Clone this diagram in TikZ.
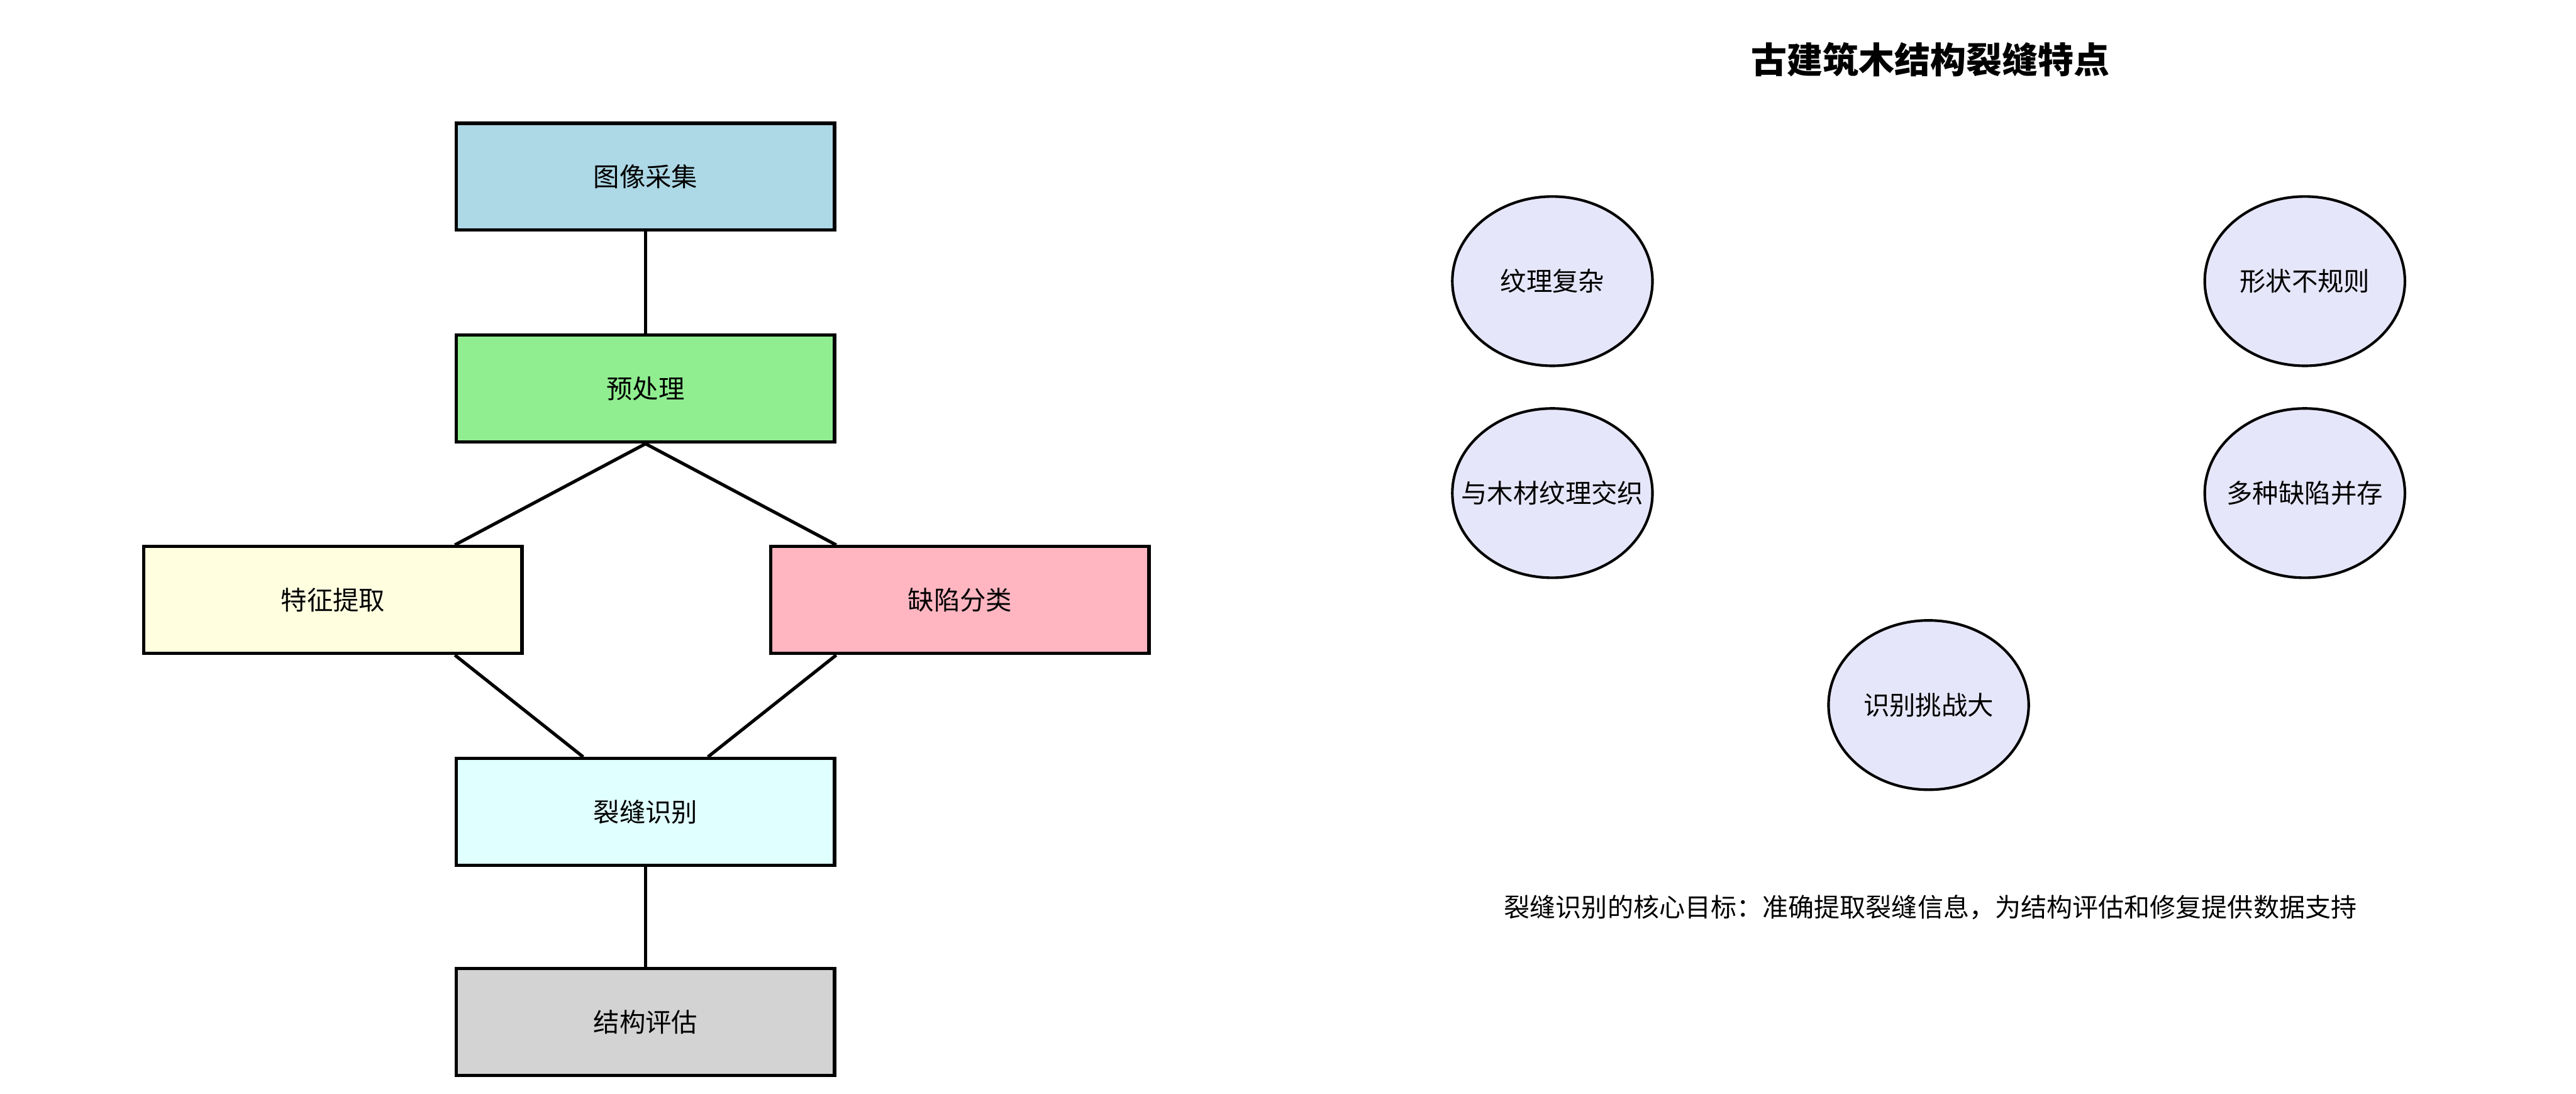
\documentclass[tikz,border=0pt]{standalone}
\usepackage{fontspec}
\setmainfont{Noto Sans CJK SC}
\usetikzlibrary{positioning,shapes.geometric}
\definecolor{acqblue}{HTML}{ADD8E6}
\definecolor{pregreen}{HTML}{90EE90}
\definecolor{featyellow}{HTML}{FFFFE0}
\definecolor{defpink}{HTML}{FFB6C1}
\definecolor{crackcyan}{HTML}{E0FFFF}
\definecolor{evalgray}{HTML}{D3D3D3}
\definecolor{traitlav}{HTML}{E6E6FA}

\begin{document}
\begin{tikzpicture}[
  font=\fontsize{12}{14}\selectfont,
  stage/.style={draw=black, line width=1.5pt, minimum width=6.12cm, minimum height=1.73cm,
                inner sep=0pt},
  trait/.style={ellipse, draw=black, line width=1.2pt, fill=traitlav, minimum width=3.24cm,
                minimum height=2.74cm, inner xsep=-0.5cm, inner ysep=0pt},
  link/.style={line width=1.5pt},
  lab/.style={inner sep=1pt}
]
\useasboundingbox (0,0) rectangle (41.70,-17.70);
% ----- processing pipeline (left) -----
\node[stage, fill=acqblue]    (acq)   at (10.45,-2.86)  {图像采集};
\node[stage, fill=pregreen]   (prep)  at (10.45,-6.29)  {预处理};
\node[stage, fill=featyellow] (feat)  at (5.39,-9.71)   {特征提取};
\node[stage, fill=defpink]    (defc)  at (15.54,-9.71)  {缺陷分类};
\node[stage, fill=crackcyan]  (crack) at (10.45,-13.14) {裂缝识别};
\node[stage, fill=evalgray]   (eval)  at (10.45,-16.54) {结构评估};
\draw[link] (acq) -- (prep);
\draw[link] (prep.south) -- (feat.north -| prep.west);
\draw[link] (prep.south) -- (defc.north -| prep.east);
\draw[link] (feat.south -| prep.west) -- ([xshift=-1.01cm]crack.north);
\draw[link] (defc.south -| prep.east) -- ([xshift=1.01cm]crack.north);
\draw[link] (crack) -- (eval);
% ----- crack characteristics (right) -----
\node[lab, font=\fontsize{16.5}{20}\selectfont\bfseries] (title) at (31.25,-0.96)
  {古建筑木结构裂缝特点};
\node[trait] (tex)   at (25.13,-4.55)  {纹理复杂};
\node[trait] (shape) at (37.31,-4.55)  {形状不规则};
\node[trait] (grain) at (25.13,-7.98)  {与木材纹理交织};
\node[trait] (multi) at (37.31,-7.98)  {多种缺陷并存};
\node[trait] (hard)  at (31.22,-11.41) {识别挑战大};
\node[lab, font=\fontsize{11.9}{14}\selectfont] (goal) at (31.25,-14.68)
  {裂缝识别的核心目标：准确提取裂缝信息，为结构评估和修复提供数据支持};
\end{tikzpicture}
\end{document}
